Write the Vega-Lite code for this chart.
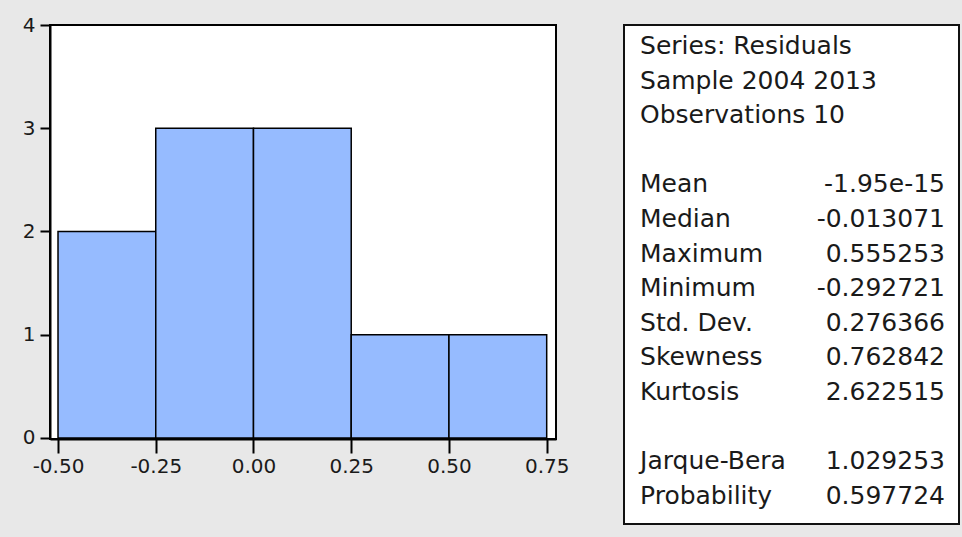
{
  "$schema": "https://vega.github.io/schema/vega-lite/v6.json",
  "background": "#e8e8e8",
  "padding": {"left": 21, "top": 14, "right": 4, "bottom": 13},
  "spacing": 68,
  "bounds": "flush",
  "datasets": {
    "bins": [
      {"start": -0.5, "end": -0.25, "count": 2},
      {"start": -0.25, "end": 0.0, "count": 3},
      {"start": 0.0, "end": 0.25, "count": 3},
      {"start": 0.25, "end": 0.5, "count": 1},
      {"start": 0.5, "end": 0.75, "count": 1}
    ],
    "stats": [
      {"row": 0, "col": 0, "text": "Series: Residuals"},
      {"row": 1, "col": 0, "text": "Sample 2004 2013"},
      {"row": 2, "col": 0, "text": "Observations 10"},
      {"row": 4, "col": 0, "text": "Mean"},
      {"row": 4, "col": 1, "text": "-1.95e-15"},
      {"row": 5, "col": 0, "text": "Median"},
      {"row": 5, "col": 1, "text": "-0.013071"},
      {"row": 6, "col": 0, "text": "Maximum"},
      {"row": 6, "col": 1, "text": "0.555253"},
      {"row": 7, "col": 0, "text": "Minimum"},
      {"row": 7, "col": 1, "text": "-0.292721"},
      {"row": 8, "col": 0, "text": "Std. Dev."},
      {"row": 8, "col": 1, "text": "0.276366"},
      {"row": 9, "col": 0, "text": "Skewness"},
      {"row": 9, "col": 1, "text": "0.762842"},
      {"row": 10, "col": 0, "text": "Kurtosis"},
      {"row": 10, "col": 1, "text": "2.622515"},
      {"row": 12, "col": 0, "text": "Jarque-Bera"},
      {"row": 12, "col": 1, "text": "1.029253"},
      {"row": 13, "col": 0, "text": "Probability"},
      {"row": 13, "col": 1, "text": "0.597724"}
    ]
  },
  "hconcat": [
    {
      "width": 506,
      "height": 414,
      "data": {"name": "bins"},
      "view": {"fill": "#ffffff", "stroke": "#000000", "strokeWidth": 2},
      "mark": {"type": "rect", "fill": "#96bbff", "stroke": "#000000", "strokeWidth": 1.5},
      "encoding": {
        "x": {
          "field": "start",
          "type": "quantitative",
          "scale": {"domain": [-0.5205, 0.7738], "nice": false, "zero": false},
          "axis": {
            "title": null,
            "values": [-0.5, -0.25, 0, 0.25, 0.5, 0.75],
            "labelExpr": "replace(format(datum.value, '.2f'), '\u2212', '-')",
            "grid": false,
            "labelFlush": false,
            "labelOverlap": false,
            "tickSize": 14,
            "tickWidth": 2,
            "tickColor": "#000000",
            "domainColor": "#000000",
            "domainWidth": 2,
            "labelPadding": 3,
            "labelFont": "DejaVu Sans",
            "labelFontSize": 20,
            "labelColor": "#1a1a1a"
          }
        },
        "x2": {"field": "end"},
        "y": {
          "field": "count",
          "type": "quantitative",
          "scale": {"domain": [-0.01, 4], "nice": false, "zero": false},
          "axis": {
            "title": null,
            "values": [0, 1, 2, 3, 4],
            "format": "d",
            "grid": false,
            "labelFlush": false,
            "labelOverlap": false,
            "tickSize": 10,
            "tickWidth": 2,
            "tickColor": "#000000",
            "domainColor": "#000000",
            "domainWidth": 2,
            "labelPadding": 5,
            "labelFont": "DejaVu Sans",
            "labelFontSize": 20,
            "labelColor": "#1a1a1a"
          }
        },
        "y2": {"datum": 0}
      }
    },
    {
      "width": 335,
      "height": 499,
      "data": {"name": "stats"},
      "view": {"fill": "#ffffff", "stroke": "#111111", "strokeWidth": 2},
      "encoding": {
        "x": {
          "field": "col",
          "type": "quantitative",
          "scale": {"domain": [-0.0525, 1.0459], "nice": false, "zero": false},
          "axis": null
        },
        "y": {
          "field": "row",
          "type": "quantitative",
          "scale": {"domain": [13.584, -0.838], "nice": false, "zero": false},
          "axis": null
        },
        "text": {"field": "text", "type": "nominal"}
      },
      "layer": [
        {
          "transform": [{"filter": "datum.col == 0"}],
          "mark": {"type": "text", "align": "left", "baseline": "alphabetic", "font": "DejaVu Sans", "fontSize": 25, "color": "#1a1a1a"}
        },
        {
          "transform": [{"filter": "datum.col == 1"}],
          "mark": {"type": "text", "align": "right", "baseline": "alphabetic", "font": "DejaVu Sans", "fontSize": 25, "color": "#1a1a1a"}
        }
      ]
    }
  ]
}
